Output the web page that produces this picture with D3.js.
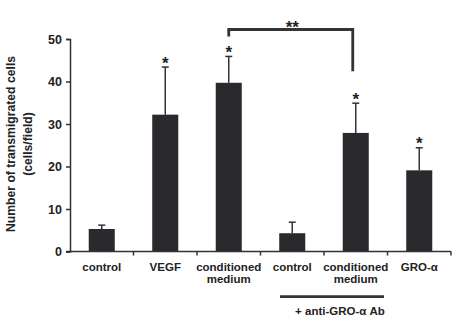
<!DOCTYPE html>
<html>
<head>
<meta charset="utf-8">
<script src="https://cdn.jsdelivr.net/npm/d3@7"></script>
<style>
  body { margin: 0; background: #fff; }
  text { font-family: "Liberation Sans", Arial, sans-serif; font-weight: bold; fill: #222; }
</style>
</head>
<body>
<div id="chart"></div>
<script>
const categories = ['control', 'VEGF', 'conditioned medium', 'control', 'conditioned medium', 'GRO-α'];
const labelLines = [['control'], ['VEGF'], ['conditioned', 'medium'], ['control'], ['conditioned', 'medium'], ['GRO-α']];
const means = [5.3, 32.2, 39.7, 4.3, 27.9, 19.1];
const errors = [0.9, 11.2, 6.2, 2.6, 7.0, 5.3];
const starred = [false, true, true, false, true, true];
const yTicks = [0, 10, 20, 30, 40, 50];

const width = 456;
const height = 317;
const margin = { top: 39, right: 4, bottom: 66, left: 70 };

const svg = d3.select('#chart')
    .append('svg')
    .attr('width', width)
    .attr('height', height);

const x = d3.scaleBand()
    .domain(d3.range(categories.length))
    .range([margin.left, margin.left + 381])
    .paddingInner(0.59)
    .paddingOuter(0.295);

const y = d3.scaleLinear()
    .domain([0, 50])
    .range([height - margin.bottom + 0.5, margin.top]);

const ink = '#333';
const cx = i => x(i) + x.bandwidth() / 2;
const topOf = i => y(means[i] + errors[i]);

// bars
svg.selectAll('.bar')
    .data(means)
    .enter()
    .append('rect')
    .attr('class', 'bar')
    .attr('x', (d, i) => x(i))
    .attr('y', d => y(d))
    .attr('width', x.bandwidth())
    .attr('height', d => y(0) - y(d))
    .attr('fill', '#2a2a2e');

// error bars (upper only)
svg.selectAll('.err')
    .data(means)
    .enter()
    .append('line')
    .attr('x1', (d, i) => cx(i))
    .attr('x2', (d, i) => cx(i))
    .attr('y1', d => y(d))
    .attr('y2', (d, i) => topOf(i))
    .attr('stroke', ink)
    .attr('stroke-width', 1.5);
svg.selectAll('.cap')
    .data(means)
    .enter()
    .append('line')
    .attr('x1', (d, i) => cx(i) - 3.5)
    .attr('x2', (d, i) => cx(i) + 3.5)
    .attr('y1', (d, i) => topOf(i))
    .attr('y2', (d, i) => topOf(i))
    .attr('stroke', ink)
    .attr('stroke-width', 1.5);

// stars
d3.range(means.length).filter(i => starred[i]).forEach(i => {
    svg.append('text')
        .attr('x', cx(i))
        .attr('y', topOf(i) + 1.5)
        .attr('text-anchor', 'middle')
        .style('font-size', '17px')
        .text('*');
});

// y axis
const yAxis = svg.append('g')
    .attr('transform', `translate(${margin.left},0)`)
    .call(d3.axisLeft(y).tickValues(yTicks).tickSize(4).tickPadding(4));
yAxis.select('.domain').attr('stroke', ink).attr('stroke-width', 1.5);
yAxis.selectAll('.tick line').attr('stroke', ink).attr('stroke-width', 1.5);
yAxis.selectAll('.tick text')
    .style('font-size', '12.5px')
    .style('font-family', '"Liberation Sans", Arial, sans-serif')
    .style('font-weight', 'bold')
    .attr('fill', '#222');

// x axis with ticks at band boundaries
const xAxisG = svg.append('g');
xAxisG.append('line')
    .attr('x1', margin.left - 4)
    .attr('x2', x.range()[1])
    .attr('y1', y(0))
    .attr('y2', y(0))
    .attr('stroke', ink)
    .attr('stroke-width', 1.5);
const step = x.step();
xAxisG.selectAll('.xt')
    .data(d3.range(1, categories.length + 1))
    .enter()
    .append('line')
    .attr('x1', i => margin.left + i * step)
    .attr('x2', i => margin.left + i * step)
    .attr('y1', y(0))
    .attr('y2', y(0) + 4)
    .attr('stroke', ink)
    .attr('stroke-width', 1.5);

// x labels
labelLines.forEach((lines, i) => {
    const t = svg.append('text')
        .attr('x', cx(i))
        .attr('y', y(0) + 19)
        .attr('text-anchor', 'middle')
        .style('font-size', '11.5px');
    lines.forEach((s, k) => {
        t.append('tspan')
            .attr('x', cx(i))
            .attr('dy', k === 0 ? 0 : 12.5)
            .text(s);
    });
});

// y axis title
const yTitle = svg.append('text')
    .attr('transform', `translate(15,144) rotate(-90)`)
    .attr('text-anchor', 'middle')
    .style('font-size', '12.2px');
yTitle.append('tspan').attr('x', 0).attr('dy', 0).text('Number of transmigrated cells');
yTitle.append('tspan').attr('x', 0).attr('dy', 17).text('(cells/field)');

// significance bracket between conditioned medium groups
const bracketY = 29.5;
svg.append('path')
    .attr('d', `M${cx(2)},${topOf(2) - 20} V${bracketY} H${cx(4) - 3} V${topOf(4) - 32}`)
    .attr('fill', 'none')
    .attr('stroke', ink)
    .attr('stroke-width', 2.8);
svg.append('text')
    .attr('x', (cx(2) + cx(4)) / 2)
    .attr('y', bracketY + 3.5)
    .attr('text-anchor', 'middle')
    .style('font-size', '17px')
    .text('**');

// treatment group line
svg.append('line')
    .attr('x1', 280)
    .attr('x2', 384)
    .attr('y1', 296.7)
    .attr('y2', 296.7)
    .attr('stroke', ink)
    .attr('stroke-width', 2.7);
svg.append('text')
    .attr('x', 340)
    .attr('y', 315)
    .attr('text-anchor', 'middle')
    .style('font-size', '11.5px')
    .text('+ anti-GRO-α Ab');
</script>
</body>
</html>
